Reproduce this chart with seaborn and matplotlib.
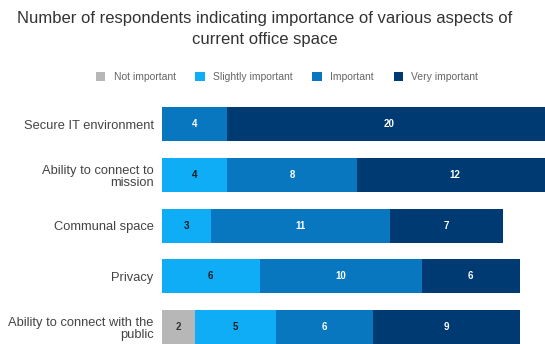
import numpy as np
import pandas as pd
import matplotlib
matplotlib.use("Agg")
import matplotlib.pyplot as plt
import seaborn as sns
from matplotlib.patches import Patch

categories = ["Secure IT environment", "Ability to connect to\nmission", "Communal space",
              "Privacy", "Ability to connect with the\npublic"]
series_names = ["Not important", "Slightly important", "Important", "Very important"]
not_important = [0, 0, 0, 0, 2]
slightly_important = [0, 4, 3, 6, 5]
important = [4, 8, 11, 10, 6]
very_important = [20, 12, 7, 6, 9]

colors = ["#b7b7b7", "#10adf7", "#0877bf", "#003a72"]
text_colors = ["#333333", "#1a1a1a", "white", "white"]

sns.set_theme(style="white")
plt.rcParams['font.family'] = ['Liberation Sans', 'DejaVu Sans']

fig = plt.figure(figsize=(5.45, 3.44), dpi=100)
W, H = 545, 344
left_px, right_px, top_px, bot_px = 162, 545, 99, 344
ax = fig.add_axes([left_px / W, 1 - bot_px / H, (right_px - left_px) / W, (bot_px - top_px) / H])

series = [not_important, slightly_important, important, very_important]
cum = np.cumsum(np.array(series), axis=0)
# draw cumulative totals from the full bar down so earlier segments overlay later ones
for i in range(len(series) - 1, -1, -1):
    df = pd.DataFrame({"cat": categories, "val": cum[i]})
    sns.barplot(data=df, x="val", y="cat", orient="h", color=colors[i], saturation=1,
                width=0.67, ax=ax, linewidth=0, edgecolor="none")

for j in range(len(categories)):
    start = 0
    for i, s in enumerate(series):
        v = s[j]
        if v > 0:
            ax.text(start + v / 2, j, str(v), ha="center", va="center", fontsize=7,
                    fontweight="bold", color=text_colors[i])
        start += v

xmax = (right_px - left_px) / 16.25
ax.set_xlim(0, xmax)
ax.set_ylim(4 + (bot_px - 327) / 50.75, -0.5)
ax.set_xlabel("")
ax.set_ylabel("")
ax.set_xticks([])
ax.tick_params(axis="y", length=0, pad=6, labelsize=9.3, labelcolor="#444444")
for lbl in ax.get_yticklabels():
    lbl.set_horizontalalignment("right")
    lbl.set_multialignment("right")
    lbl.set_linespacing(1.0)
for sp in ax.spines.values():
    sp.set_visible(False)

fig.text(265 / W, 1 - 29 / H, "Number of respondents indicating importance of various aspects of\ncurrent office space",
         ha="center", va="center", fontsize=12.0, color="#333333", linespacing=1.45)

handles = [Patch(facecolor=c, edgecolor="none") for c in colors]
fig.legend(handles, series_names, loc="center", bbox_to_anchor=(287 / W, 1 - 77 / H), ncol=4,
           frameon=False, fontsize=7.5, handlelength=0.9, handleheight=0.9, columnspacing=1.9,
           handletextpad=0.8, labelcolor="#666666")

fig.savefig("out.png", dpi=100)
